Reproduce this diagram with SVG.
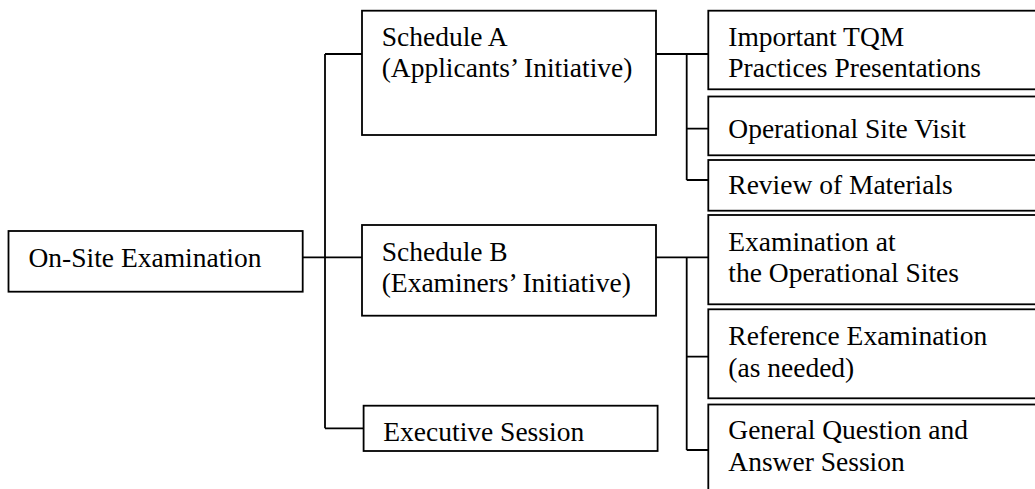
<svg xmlns="http://www.w3.org/2000/svg" width="1035" height="489" viewBox="0 0 1035 489">
<style>
.box{fill:#fff;stroke:#000;stroke-width:1.8}
.ln{fill:none;stroke:#000;stroke-width:1.8}
text{font-family:"Liberation Serif","Times New Roman",serif;font-size:27.5px;fill:#000}
</style>
<rect width="1035" height="489" fill="#fff"/>
<g id="connectors">
<path class="ln" d="M303,257.3H362M325,54V428.3M325,54H362M325,428.3H364"/>
<path class="ln" d="M656,54H708.3M686.7,54V180M686.7,128.7H708.3M686.7,180H708.3"/>
<path class="ln" d="M656,257.3H708.3M686.7,257.3V450M686.7,356.7H708.3M686.7,450H708.3"/>
</g>
<g id="onsite">
<rect class="box" x="8.5" y="231" width="294.2" height="60.7"/>
<text x="28.5" y="266.7">On-Site Examination</text>
</g>
<g id="scheduleA">
<rect class="box" x="362" y="10.7" width="294" height="124.3"/>
<text x="381.7" y="45.7">Schedule A</text>
<text x="381.7" y="77.3">(Applicants’ Initiative)</text>
</g>
<g id="scheduleB">
<rect class="box" x="362" y="225" width="294" height="90.7"/>
<text x="381.7" y="260.7">Schedule B</text>
<text x="381.7" y="292.3">(Examiners’ Initiative)</text>
</g>
<g id="executive">
<rect class="box" x="363.6" y="405.7" width="294" height="45.3"/>
<text x="383.3" y="441">Executive Session</text>
</g>
<g id="tqm">
<rect class="box" x="708.3" y="10.7" width="340" height="78.6"/>
<text x="728.3" y="45.7">Important TQM</text>
<text x="728.3" y="77.3">Practices Presentations</text>
</g>
<g id="sitevisit">
<rect class="box" x="708.3" y="96.5" width="340" height="58.8"/>
<text x="728.3" y="138.3">Operational Site Visit</text>
</g>
<g id="review">
<rect class="box" x="708.3" y="160" width="340" height="50.7"/>
<text x="728.3" y="194.3">Review of Materials</text>
</g>
<g id="examsites">
<rect class="box" x="708.3" y="215" width="340" height="89.3"/>
<text x="728.3" y="250.7">Examination at</text>
<text x="728.3" y="282.3">the Operational Sites</text>
</g>
<g id="refexam">
<rect class="box" x="708.3" y="309.3" width="340" height="89"/>
<text x="728.3" y="345">Reference Examination</text>
<text x="728.3" y="376.7">(as needed)</text>
</g>
<g id="generalqa">
<rect class="box" x="708.3" y="404.5" width="340" height="100"/>
<text x="728.3" y="439">General Question and</text>
<text x="728.3" y="470.7">Answer Session</text>
</g>
</svg>
